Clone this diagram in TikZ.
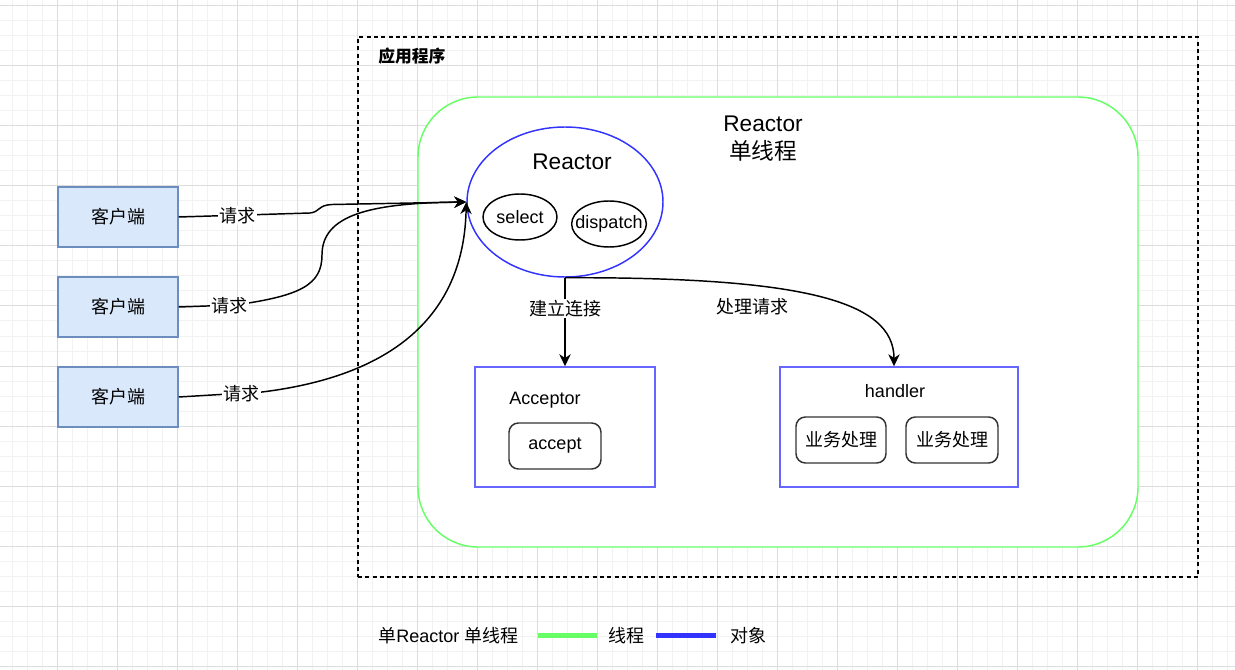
\documentclass[tikz,border=0pt]{standalone}
\usepackage{fontspec}
\setmainfont{Liberation Sans}
\newfontfamily\cjk{Noto Sans CJK SC}
\usetikzlibrary{shapes.geometric,arrows.meta,positioning}
\definecolor{clientfill}{HTML}{DAE8FC}
\definecolor{clientline}{HTML}{6C8EBF}
\definecolor{threadgreen}{HTML}{66FF66}
\definecolor{objblue}{HTML}{3333FF}
\definecolor{boxblue}{HTML}{6666FF}
\definecolor{gridmajor}{HTML}{DDDDDD}
\definecolor{gridminor}{HTML}{F2F2F2}

\begin{document}
\begin{tikzpicture}[x=0.75pt,y=-0.75pt,font={\fontsize{13.5}{16}\selectfont},node distance=21.4pt,
  cjktext/.style={font={\fontsize{13.5}{16}\selectfont\cjk}},
  client/.style={draw=clientline,fill=clientfill,line width=1.1pt,minimum width=90pt,minimum height=45pt,cjktext},
  objbox/.style={draw=boxblue,fill=white,line width=1.1pt,inner sep=0},
  inbox/.style={draw=black!80,fill=white,line width=1.1pt,rounded corners=7pt,inner sep=0},
  req/.style={line width=1.1pt,-{Stealth[length=9pt,width=8.5pt,inset=2.8pt]}},
  lbl/.style={fill=white,inner sep=1pt,cjktext}]
  \useasboundingbox (0,0) rectangle (1235,670);
  \fill[white] (0,0) rectangle (1235,670);
  % background grid
  \foreach \x in {-3,12,...,1235} \draw[gridminor,line width=0.75pt] (\x,0) -- (\x,670);
  \foreach \y in {6,21,...,670} \draw[gridminor,line width=0.75pt] (0,\y) -- (1235,\y);
  \foreach \x in {-3,57,...,1235} \draw[gridmajor,line width=0.75pt] (\x,0) -- (\x,670);
  \foreach \y in {6,66,...,670} \draw[gridmajor,line width=0.75pt] (0,\y) -- (1235,\y);

  % containers
  \node[draw,line width=1.1pt,dash pattern=on 3pt off 2.5pt,minimum width=630pt,minimum height=405pt,inner sep=0] (app) at (778,307) {};
  \node[anchor=west,inner sep=0,font={\fontsize{12.6}{15}\selectfont\cjk\bfseries}] (apptitle) at (378,56) {应用程序};
  \node[draw=threadgreen,fill=white,line width=1.1pt,rounded corners=45pt,minimum width=540pt,minimum height=337.5pt,inner sep=0] (thr) at (778,322) {};
  \node[align=center,font={\fontsize{17}{21}\selectfont}] (thrtitle) at (763,139) {Reactor\\{\cjk 单线程}};

  % reactor
  \node[ellipse,draw=objblue,fill=white,line width=1.1pt,minimum width=147pt,minimum height=112.5pt,inner sep=0] (rea) at (565,202) {};
  \node[font={\fontsize{17}{21}\selectfont}] (reatitle) at (572,162) {Reactor};
  \node[ellipse,draw,line width=1.1pt,minimum width=55.5pt,minimum height=34.5pt,inner sep=0,label={center:select}] (sel) at (520,217) {};
  \node[ellipse,draw,line width=1.1pt,minimum width=56pt,minimum height=34.5pt,inner sep=0,label={center:dispatch}] (dis) at (609,224) {};

  % clients
  \node[client] (c1) at (118,217) {客户端};
  \node[client,below=of c1] (c2) {客户端};
  \node[client,below=of c2] (c3) {客户端};

  % acceptor and handler
  \node[objbox,minimum width=135pt,minimum height=90pt] (acc) at (565,427) {};
  \node (acctitle) at (545,400) {Acceptor};
  \node[inbox,minimum width=69pt,minimum height=34.5pt] (accept) at (555,446) {accept};
  \node[objbox,minimum width=178.5pt,minimum height=90pt] (hdl) at (899,427) {};
  \node (hdltitle) at (895,391) {handler};
  \node[inbox,cjktext,minimum width=67.5pt,minimum height=34.5pt] (biz1) at (841,440) {业务处理};
  \node[inbox,cjktext,minimum width=69pt,minimum height=34.5pt] (biz2) at (952,440) {业务处理};

  % requests
  \draw[req] (c1.east) -- node[lbl,pos=0.45]{请求} (310,213)
        .. controls (320,212) and (318,205) .. (332,204.5) -- (rea.west);
  \draw[req] (c2.east) -- node[lbl,pos=0.9]{请求} (235,305)
        .. controls (300,296) and (322,285) .. (322,255)
        .. controls (322,215) and (370,203) .. (rea.west);
  \draw[req] (c3.east) -- node[lbl,pos=0.75]{请求} (262,392)
        .. controls (400,375) and (464,310) .. (rea.west);
  \draw[req] (rea.south) -- node[lbl,pos=0.35]{建立连接} (acc.north);
  \draw[req] (rea.south) .. controls (800,277) and (894,300) .. ([xshift=-3.75pt]hdl.north);
  \node[cjktext] (hdllabel) at (752,307) {处理请求};

  % legend
  \node[anchor=west,inner sep=0] (legend) at (378,636) {{\cjk 单}Reactor {\cjk 单线程}};
  \draw[threadgreen,line width=3.75pt] (538,635) -- (597,635);
  \node[cjktext] (legthr) at (626,636) {线程};
  \draw[objblue,line width=3.75pt] (656,635) -- (716,635);
  \node[cjktext] (legobj) at (748,636) {对象};
\end{tikzpicture}
\end{document}
